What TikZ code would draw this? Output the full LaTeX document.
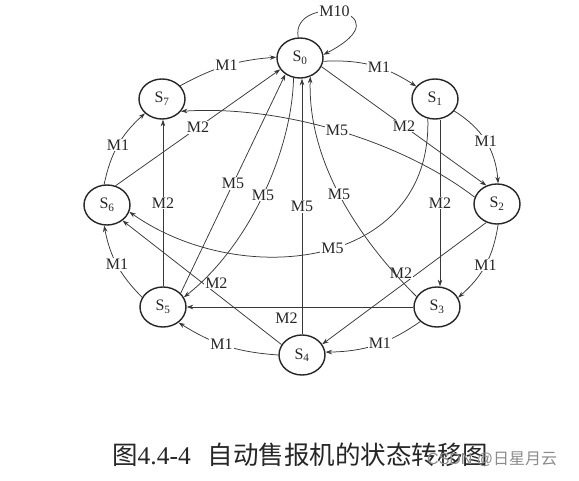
\documentclass[tikz,border=0pt]{standalone}
\usepackage{fontspec}
\setmainfont{Liberation Serif}
\newfontfamily\cjkfont{Noto Sans CJK SC}
\newfontfamily\wmfont{Liberation Sans}
\usetikzlibrary{shapes.geometric,arrows.meta}
\begin{document}
\begin{tikzpicture}[x=1pt,y=-1pt,
  st/.style={ellipse, draw=black!85, line width=1.4pt, minimum width=46pt, minimum height=40pt,
             inner sep=0pt, text=black!85, font=\fontsize{16}{16}\selectfont},
  tr/.style={draw=black!78, line width=0.75pt, -{Stealth[length=6.5pt,width=4.5pt]}},
  lbl/.style={fill=white, inner sep=1pt, text=black!85, font=\fontsize{16}{16}\selectfont}]
\useasboundingbox (0,0) rectangle (579,481);
\fill[white] (0,0) rectangle (579,481);

\node[st] (s0) at (300,58)  {S\textsubscript{0}};
\node[st] (s1) at (435,99)  {S\textsubscript{1}};
\node[st] (s2) at (497,204) {S\textsubscript{2}};
\node[st] (s3) at (437,307) {S\textsubscript{3}};
\node[st] (s4) at (302,355) {S\textsubscript{4}};
\node[st] (s5) at (163,307) {S\textsubscript{5}};
\node[st] (s6) at (107,205) {S\textsubscript{6}};
\node[st] (s7) at (162,99)  {S\textsubscript{7}};

% M1 ring
\draw[tr] (s7.36) to[bend left=12] node[lbl]{M1} (s0.178);
\draw[tr] (s0.-8) to[bend left=18] node[lbl,pos=0.58]{M1} (s1.146);
\draw[tr] (s1.-32) to[bend left=27] node[lbl]{M1} (s2.87);
\draw[tr] (s2.-87) to[bend left=20] node[lbl]{M1} (s3.24);
\draw[tr] (s3.221) to[bend left=17] node[lbl,pos=0.45]{M1} (s4.7);
\draw[tr] (s4.180) to[bend left=14] node[lbl,pos=0.55]{M1} (s5.-45);
\draw[tr] (s5.155) to[bend left=17] node[lbl]{M1} (s6.262);
\draw[tr] (s6.98) to[bend left=18] node[lbl]{M1} (s7.220);

% M2
\coordinate (v13) at (440,0);
\draw[tr] (s0.-22) -- node[lbl]{M2} (s2.120);
\draw[tr] (s1.south -| v13) -- node[lbl]{M2} (s3.north -| v13);
\draw[tr] (s2.240) -- node[lbl,pos=0.52,yshift=13pt]{M2} (s4.28);
\draw[tr] (s3.west) -- node[lbl,pos=0.56,yshift=-11pt]{M2} (s5.east);
\draw[tr] (s4.153) -- node[lbl,pos=0.41,yshift=11pt]{M2} (s6.-45);
\draw[tr] (s5.north) -- node[lbl]{M2} (s5.north |- s7.south);
\draw[tr] (s6.66) -- node[lbl]{M2} (s0.210);

% M5
\draw[tr] (s5.38) -- node[lbl]{M5} (s0.228);
\draw[tr] (s0.252) .. controls (292,150) and (250,245) .. node[lbl]{M5} (s5.25);
\draw[tr] (s4.north) -- node[lbl]{M5} (s4.north |- s0.south);
\draw[tr] (s3.153) .. controls (345,225) and (308,150) .. node[lbl,pos=0.47]{M5} (s0.299);
\draw[tr] (s1.250) .. controls (432,270) and (240,290) .. node[lbl,pos=0.47]{M5} (s6.-17);
\draw[tr] (s2.163) .. controls (400,140) and (280,105) .. node[lbl]{M5} (s7.-33);

% M10 loop
\draw[tr] (s0.95) .. controls (290,-8) and (410,10) .. node[lbl,pos=0.45]{M10} (s0.8);

% caption
\node[anchor=west, inner sep=0pt, text=black!85] (cap) at (112,455)
  {\fontsize{25.5}{26}\selectfont{\cjkfont 图}4.4-4\hspace{17pt}{\cjkfont 自动售报机的状态转移图}};
\node[anchor=west, inner sep=0pt, text=black!45] (wm) at (427,459)
  {\fontsize{16}{16}\selectfont\wmfont CSDN @{\cjkfont 日星月云}};
\end{tikzpicture}
\end{document}
